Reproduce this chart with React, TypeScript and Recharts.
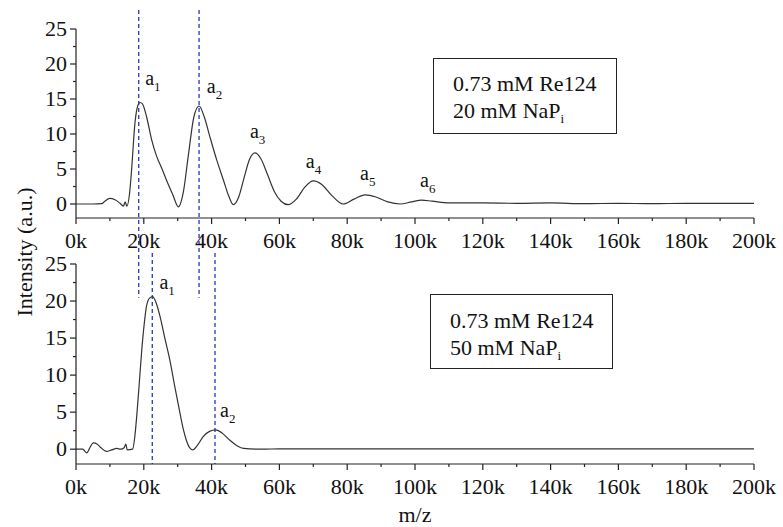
import React from "react";
import { LineChart, Line, XAxis, YAxis, ReferenceLine, ReferenceDot } from "recharts";

// m/z values (Da) and intensities for the 20 mM NaPi trace
const topMz = [
  0, 5000, 7600, 8500, 10000, 11500, 13000, 14000, 14500, 15000, 15800, 16400, 17400, 18200, 18900, 19600,
  20800, 22300, 23800, 25200, 26700, 28500, 30200, 31700, 33100, 34800, 36300, 37800, 39500, 41500, 43500,
  45000, 46400, 48000, 49500, 51200, 52800, 54500, 56500, 58500, 60500, 62600, 65000, 67500, 70000, 72500,
  75500, 78800, 82000, 85300, 88500, 92000, 95600, 99000, 102000, 105000, 110000, 120000, 130000, 140000,
  150000, 160000, 170000, 180000, 190000, 200000,
];
const topIntensity = [
  0, 0, 0.05, 0.4, 0.8, 0.6, 0.1, -0.3, 0.3, -0.3, 1.5, 4.9, 11.6, 14.0, 14.5, 14.3,
  12.5, 9.2, 6.8, 5.2, 3.4, 1.4, -0.4, 1.8, 6.8, 12.5, 14.0, 12.5, 9.6, 6.3, 3.4,
  1.2, -0.1, 1.0, 3.6, 6.4, 7.3, 6.5, 4.2, 1.8, 0.4, -0.1, 0.7, 2.4, 3.3, 2.8,
  1.2, 0.0, 0.7, 1.3, 1.0, 0.3, 0.0, 0.3, 0.55, 0.4, 0.15, 0.15, 0.1, 0.15,
  0.05, 0.1, 0.05, 0.1, 0.1, 0.1,
];

// m/z values (Da) and intensities for the 50 mM NaPi trace
const bottomMz = [
  0, 2000, 3200, 4200, 5100, 6200, 7100, 9000, 10500, 12000, 13200, 14200, 14700, 15100, 16700, 17300,
  17900, 18600, 19400, 20100, 20800, 21700, 22600, 23600, 24800, 26200, 27700, 29200, 30700, 31700, 32700,
  33500, 34400, 35800, 37500, 39400, 41200, 43300, 45400, 47400, 49400, 55000, 60000, 70000, 80000, 90000,
  100000, 120000, 140000, 160000, 180000, 200000,
];
const bottomIntensity = [
  0, 0, -0.5, 0.3, 0.85, 0.7, 0.3, -0.3, -0.1, 0.1, 0.0, 0.2, 0.7, -0.1, 0.0, 1.5,
  4.4, 8.5, 13.4, 16.8, 19.3, 20.4, 20.6, 19.8, 17.9, 15.0, 12.0, 8.3, 4.8, 2.6, 1.0,
  0.2, -0.1, 0.5, 1.7, 2.4, 2.6, 2.1, 1.2, 0.5, 0.1, 0.0, 0.05, 0.05, 0.05, 0.05,
  0.05, 0.05, 0.05, 0.05, 0.05, 0.05,
];

// peak labels: text anchor in data coordinates (left edge, baseline)
const topPeakNames = ["1", "2", "3", "4", "5", "6"];
const topPeakMz = [20400, 38600, 51300, 67800, 83800, 101500];
const topPeakY = [17.0, 15.9, 9.4, 5.1, 3.4, 2.4];
const bottomPeakNames = ["1", "2"];
const bottomPeakMz = [24600, 42500];
const bottomPeakY = [21.6, 4.4];

// dashed guide lines at peak maxima
const topGuides = [18500, 36300];
const bottomGuides = [22500, 41000];

const xTicks = [0, 10000, 20000, 30000, 40000, 50000, 60000, 70000, 80000, 90000, 100000, 110000, 120000,
  130000, 140000, 150000, 160000, 170000, 180000, 190000, 200000];
const yTicks = [0, 2.5, 5, 7.5, 10, 12.5, 15, 17.5, 20, 22.5, 25];

const topData = topMz.map((mz, i) => ({ mz, v: topIntensity[i] }));
const bottomData = bottomMz.map((mz, i) => ({ mz, v: bottomIntensity[i] }));

const FONT = "'Liberation Serif', 'Times New Roman', serif";
const AX = "#222";
const GUIDE = "#3030c8";

const XTick = (props: any) => {
  const { x, y, payload } = props;
  const major = payload.value % 20000 === 0;
  return (
    <g>
      <line x1={x} x2={x} y1={y} y2={y + (major ? 6 : 3)} stroke={AX} strokeWidth={1.2} />
      {major && (
        <text x={x} y={y + 30} textAnchor="middle" fontSize={22} fontFamily={FONT} fill="#111">
          {payload.value / 1000}k
        </text>
      )}
    </g>
  );
};

const YTick = (props: any) => {
  const { x, y, payload } = props;
  const major = payload.value % 5 === 0;
  return (
    <g>
      <line x1={x} x2={x - (major ? 6 : 3)} y1={y} y2={y} stroke={AX} strokeWidth={1.2} />
      {major && (
        <text x={x - 9} y={y + 7} textAnchor="end" fontSize={22} fontFamily={FONT} fill="#111">
          {payload.value}
        </text>
      )}
    </g>
  );
};

const peakLabel = (sub: string) => (p: any) => (
  <text x={p.cx} y={p.cy} fontSize={20} fontFamily={FONT} fill="#111">
    a
    <tspan fontSize={13} dy={6}>{sub}</tspan>
  </text>
);

function Panel({ data, top, height, bottomMargin, guides, guideTop, guideBottom, names, mzs, ys }: any) {
  return (
    <div style={{ position: "absolute", left: 0, top: 0 }}>
      <LineChart
        width={783}
        height={height}
        data={data}
        margin={{ top, right: 29, left: 0, bottom: bottomMargin }}
      >
        <XAxis
          dataKey="mz"
          type="number"
          domain={[0, 200000]}
          ticks={xTicks}
          interval={0}
          tickLine={false}
          tickSize={0}
          tickMargin={0}
          height={30}
          tick={<XTick />}
          axisLine={{ stroke: AX, strokeWidth: 1.2 }}
        />
        <YAxis
          type="number"
          domain={[-2, 25]}
          ticks={yTicks}
          interval={0}
          width={76}
          tickLine={false}
          tickSize={0}
          tickMargin={0}
          tick={<YTick />}
          axisLine={{ stroke: AX, strokeWidth: 1.2 }}
        />
        {guides.map((g: number) => (
          <ReferenceLine
            key={g}
            segment={[{ x: g, y: guideTop }, { x: g, y: guideBottom }]}
            ifOverflow="visible"
            stroke={GUIDE}
            strokeWidth={1.3}
            strokeDasharray="4 3"
          />
        ))}
        <Line
          type="monotone"
          dataKey="v"
          stroke="#333"
          strokeWidth={1.2}
          dot={false}
          isAnimationActive={false}
        />
        {names.map((n: string, i: number) => (
          <ReferenceDot key={n} x={mzs[i]} y={ys[i]} r={0} ifOverflow="visible" shape={peakLabel(n)} />
        ))}
      </LineChart>
    </div>
  );
}

const boxStyle: React.CSSProperties = {
  position: "absolute",
  border: "1.3px solid #222",
  boxSizing: "border-box",
  fontFamily: FONT,
  fontSize: 22,
  lineHeight: "27px",
  color: "#111",
  paddingLeft: 19,
  background: "transparent",
};

export default function App() {
  return (
    <div style={{ position: "absolute", left: 0, top: 0, width: 783, height: 527, background: "#fff", overflow: "hidden" }}>
      <Panel
        data={topData}
        top={29}
        height={310}
        bottomMargin={62}
        guides={topGuides}
        guideTop={27.7}
        guideBottom={-13.4}
        names={topPeakNames}
        mzs={topPeakMz}
        ys={topPeakY}
      />
      <Panel
        data={bottomData}
        top={264}
        height={527}
        bottomMargin={33}
        guides={bottomGuides}
        guideTop={26.5}
        guideBottom={-2}
        names={bottomPeakNames}
        mzs={bottomPeakMz}
        ys={bottomPeakY}
      />
      <div style={{ ...boxStyle, left: 433, top: 58, width: 184, height: 76, paddingTop: 11 }}>
        <div>0.73 mM Re124</div>
        <div>
          20 mM NaP<sub style={{ fontSize: 13, verticalAlign: "-5px" }}>i</sub>
        </div>
      </div>
      <div style={{ ...boxStyle, left: 430, top: 294, width: 183, height: 75, paddingTop: 12 }}>
        <div>0.73 mM Re124</div>
        <div>
          50 mM NaP<sub style={{ fontSize: 13, verticalAlign: "-5px" }}>i</sub>
        </div>
      </div>
      <svg width={783} height={527} style={{ position: "absolute", left: 0, top: 0, pointerEvents: "none" }}>
        <text
          transform="translate(24 252) rotate(-90)"
          textAnchor="middle"
          dominantBaseline="central"
          fontSize={22}
          fontFamily={FONT}
          fill="#111"
        >
          Intensity (a.u.)
        </text>
        <text x={415} y={522} textAnchor="middle" fontSize={22} fontFamily={FONT} fill="#111">
          m/z
        </text>
      </svg>
    </div>
  );
}
